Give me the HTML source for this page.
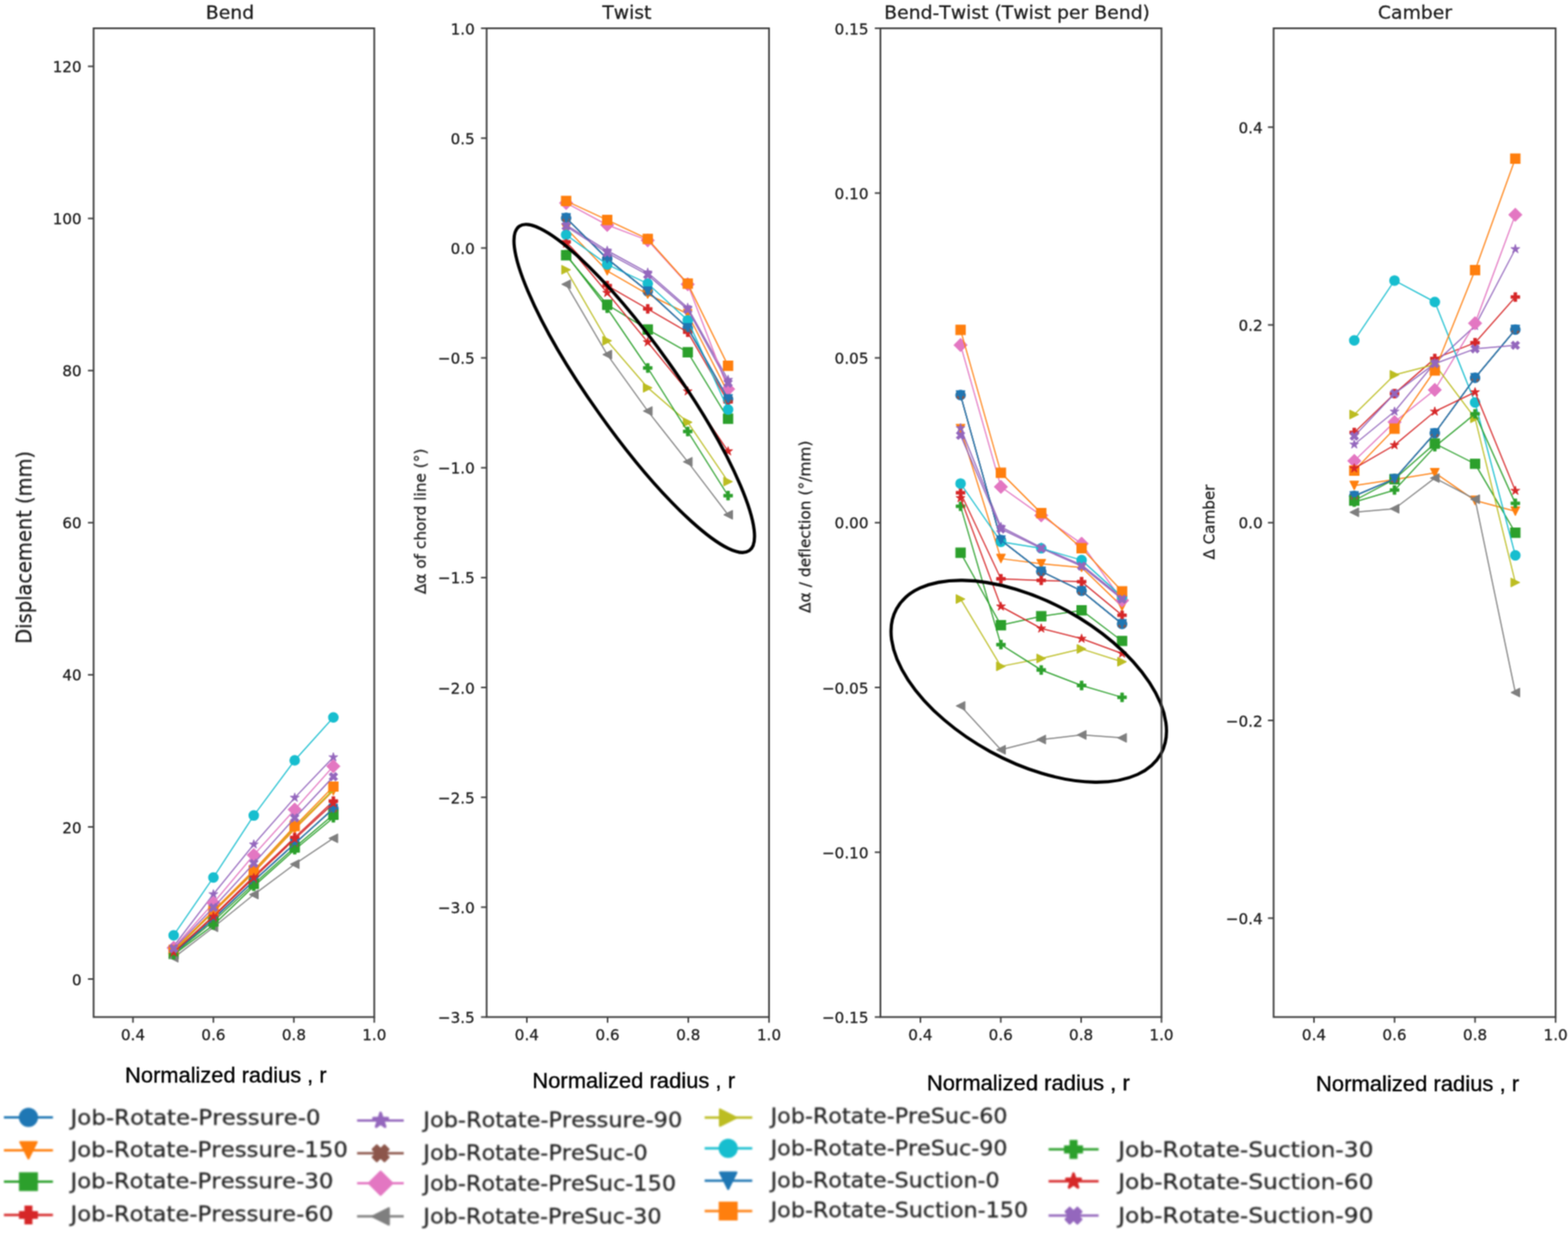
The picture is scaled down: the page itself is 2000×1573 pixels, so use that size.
<!DOCTYPE html>
<html lang="en"><head><meta charset="utf-8"><title>Blade deformation: Bend, Twist, Bend-Twist, Camber</title>
<style>
html,body{margin:0;padding:0;background:#fff;}
body{width:2000px;height:1573px;overflow:hidden;}
svg{display:block;}
text{font-family:"DejaVu Sans","Liberation Sans",sans-serif;fill:#1a1a1a;font-variant-ligatures:none;font-kerning:none;font-feature-settings:"liga" 0,"clig" 0,"kern" 0;}
.tk,.ti,.yl{stroke:#1a1a1a;stroke-width:0.3;}
.tk{font-size:20.2px;}
.ti{font-size:24px;text-anchor:middle;}
.xl{stroke:#000;stroke-width:0.45;font-family:"Liberation Sans","DejaVu Sans",sans-serif;font-size:27.7px;fill:#000;}
.lg{font-size:27.4px;fill:#222;stroke:#222;stroke-width:0.3;}
.sp{fill:none;stroke:#404040;stroke-width:2.2;}
.tm{stroke:#404040;stroke-width:2;}
.ln{fill:none;stroke-width:1.5;stroke-linejoin:round;stroke-linecap:butt;}
.el{fill:none;stroke:#000;}
</style></head><body>
<svg width="2000" height="1573" viewBox="0 0 2000 1573" role="img" aria-label="Bend, Twist, Bend-Twist and Camber versus normalized radius">
<defs>
<path id="ms" d="M-6,-6L6,-6L6,6L-6,6Z" stroke-width="1.2" stroke-linejoin="miter"/>
<path id="mv" d="M0,5.7L-5.7,-5.7L5.7,-5.7Z" stroke-width="1" stroke-linejoin="round"/>
<path id="mtl" d="M-5.7,0L5.7,-5.7L5.7,5.7Z" stroke-width="1" stroke-linejoin="round"/>
<path id="mtr" d="M5.7,0L-5.7,-5.7L-5.7,5.7Z" stroke-width="1" stroke-linejoin="round"/>
<path id="mD" d="M0,-8.56L8.56,0L0,8.56L-8.56,0Z" stroke-width="1" stroke-linejoin="round"/>
<path id="mP" d="M-1.9,-5.7L1.9,-5.7L1.9,-1.9L5.7,-1.9L5.7,1.9L1.9,1.9L1.9,5.7L-1.9,5.7L-1.9,1.9L-5.7,1.9L-5.7,-1.9L-1.9,-1.9Z" stroke-width="0.7" stroke-linejoin="miter"/>
<path id="mX" d="M-2.8,-5.6L0,-2.8L2.8,-5.6L5.6,-2.8L2.8,0L5.6,2.8L2.8,5.6L0,2.8L-2.8,5.6L-5.6,2.8L-2.8,0L-5.6,-2.8Z" stroke-width="0.8" stroke-linejoin="round"/>
<path id="mst" d="M0,-6L1.35,-1.85L5.71,-1.85L2.18,0.71L3.53,4.85L0,2.29L-3.53,4.85L-2.18,0.71L-5.71,-1.85L-1.35,-1.85Z" stroke-width="0.9" stroke-linejoin="round"/>
<circle id="mo" r="6.15" stroke-width="1.2"/>
<path id="mXb" d="M-2.6,-5.2L0,-2.6L2.6,-5.2L5.2,-2.6L2.6,0L5.2,2.6L2.6,5.2L0,2.6L-2.6,5.2L-5.2,2.6L-2.6,0L-5.2,-2.6Z" stroke-width="0.5" stroke-linejoin="round"/>
<path id="Ls" d="M-6,-6L6,-6L6,6L-6,6Z" stroke-width="1.8" stroke-linejoin="miter"/>
<path id="Lv" d="M0,6L-6,-6L6,-6Z" stroke-width="1.5" stroke-linejoin="round"/>
<path id="Ltl" d="M-6,0L6,-6L6,6Z" stroke-width="1.5" stroke-linejoin="round"/>
<path id="Ltr" d="M6,0L-6,-6L-6,6Z" stroke-width="1.5" stroke-linejoin="round"/>
<path id="LD" d="M0,-8.49L8.49,0L0,8.49L-8.49,0Z" stroke-width="1.6" stroke-linejoin="round"/>
<path id="LP" d="M-2,-6L2,-6L2,-2L6,-2L6,2L2,2L2,6L-2,6L-2,2L-6,2L-6,-2L-2,-2Z" stroke-width="1.8" stroke-linejoin="miter"/>
<path id="LX" d="M-2.8,-5.6L0,-2.8L2.8,-5.6L5.6,-2.8L2.8,0L5.6,2.8L2.8,5.6L0,2.8L-2.8,5.6L-5.6,2.8L-2.8,0L-5.6,-2.8Z" stroke-width="1.8" stroke-linejoin="round"/>
<path id="Lst" d="M0,-5.5L1.23,-1.7L5.23,-1.7L2,0.65L3.23,4.45L0,2.1L-3.23,4.45L-2,0.65L-5.23,-1.7L-1.23,-1.7Z" stroke-width="2" stroke-linejoin="round"/>
<circle id="Lo" r="6" stroke-width="2"/>
<filter id="bl" filterUnits="userSpaceOnUse" x="0" y="0" width="2000" height="1573" color-interpolation-filters="sRGB"><feConvolveMatrix order="3" kernelMatrix="1 2 1 2 4 2 1 2 1" edgeMode="duplicate" preserveAlpha="false"/></filter>
<filter id="bl2" filterUnits="userSpaceOnUse" x="0" y="1395" width="2000" height="178" color-interpolation-filters="sRGB"><feGaussianBlur stdDeviation="1"/></filter>
</defs>
<rect width="2000" height="1573" fill="#fff"/>
<g filter="url(#bl)">
<g id="panel1">
<g fill="#1f77b4" stroke="#1f77b4">
<polyline class="ln" points="221.5,1215.99 272.2,1172.33 323.7,1123.81 375.9,1076.27 425.2,1031.64"/>
<g><use href="#mo" x="221.5" y="1215.99"/><use href="#mo" x="272.2" y="1172.33"/><use href="#mo" x="323.7" y="1123.81"/><use href="#mo" x="375.9" y="1076.27"/><use href="#mo" x="425.2" y="1031.64"/></g>
</g>
<g fill="#ff7f0e" stroke="#ff7f0e">
<polyline class="ln" points="221.5,1213.08 272.2,1163.6 323.7,1113.14 375.9,1057.83 425.2,1008.83"/>
<g><use href="#mv" x="221.5" y="1213.08"/><use href="#mv" x="272.2" y="1163.6"/><use href="#mv" x="323.7" y="1113.14"/><use href="#mv" x="375.9" y="1057.83"/><use href="#mv" x="425.2" y="1008.83"/></g>
</g>
<g fill="#2ca02c" stroke="#2ca02c">
<polyline class="ln" points="221.5,1216.96 272.2,1175.24 323.7,1127.7 375.9,1081.12 425.2,1039.4"/>
<g><use href="#ms" x="221.5" y="1216.96"/><use href="#ms" x="272.2" y="1175.24"/><use href="#ms" x="323.7" y="1127.7"/><use href="#ms" x="375.9" y="1081.12"/><use href="#ms" x="425.2" y="1039.4"/></g>
</g>
<g fill="#d62728" stroke="#d62728">
<polyline class="ln" points="221.5,1215.02 272.2,1168.45 323.7,1117.99 375.9,1068.51 425.2,1021.93"/>
<g><use href="#mP" x="221.5" y="1215.02"/><use href="#mP" x="272.2" y="1168.45"/><use href="#mP" x="323.7" y="1117.99"/><use href="#mP" x="375.9" y="1068.51"/><use href="#mP" x="425.2" y="1021.93"/></g>
</g>
<g fill="#9467bd" stroke="#9467bd">
<polyline class="ln" points="221.5,1207.26 272.2,1140.8 323.7,1077.24 375.9,1017.66 425.2,966.04"/>
<g><use href="#mst" x="221.5" y="1207.26"/><use href="#mst" x="272.2" y="1140.8"/><use href="#mst" x="323.7" y="1077.24"/><use href="#mst" x="375.9" y="1017.66"/><use href="#mst" x="425.2" y="966.04"/></g>
</g>
<g fill="#8c564b" stroke="#8c564b">
<polyline class="ln" stroke-width="2.1" points="221.5,1215.99 272.2,1172.33 323.7,1123.81 375.9,1076.27 425.2,1031.64"/>
<g><use href="#mXb" x="221.5" y="1215.99"/><use href="#mXb" x="272.2" y="1172.33"/><use href="#mXb" x="323.7" y="1123.81"/><use href="#mXb" x="375.9" y="1076.27"/><use href="#mXb" x="425.2" y="1031.64"/></g>
</g>
<g fill="#e377c2" stroke="#e377c2">
<polyline class="ln" points="221.5,1209.2 272.2,1151.95 323.7,1090.82 375.9,1032.8 425.2,977.59"/>
<g><use href="#mD" x="221.5" y="1209.2"/><use href="#mD" x="272.2" y="1151.95"/><use href="#mD" x="323.7" y="1090.82"/><use href="#mD" x="375.9" y="1032.8"/><use href="#mD" x="425.2" y="977.59"/></g>
</g>
<g fill="#7f7f7f" stroke="#7f7f7f">
<polyline class="ln" points="221.5,1221.82 272.2,1183 323.7,1141.28 375.9,1102.47 425.2,1069.48"/>
<g><use href="#mtl" x="221.5" y="1221.82"/><use href="#mtl" x="272.2" y="1183"/><use href="#mtl" x="323.7" y="1141.28"/><use href="#mtl" x="375.9" y="1102.47"/><use href="#mtl" x="425.2" y="1069.48"/></g>
</g>
<g fill="#bcbd22" stroke="#bcbd22">
<polyline class="ln" points="221.5,1214.05 272.2,1162.63 323.7,1111.2 375.9,1055.89 425.2,1007.38"/>
<g><use href="#mtr" x="221.5" y="1214.05"/><use href="#mtr" x="272.2" y="1162.63"/><use href="#mtr" x="323.7" y="1111.2"/><use href="#mtr" x="375.9" y="1055.89"/><use href="#mtr" x="425.2" y="1007.38"/></g>
</g>
<g fill="#17becf" stroke="#17becf">
<polyline class="ln" points="221.5,1193.19 272.2,1119.45 323.7,1040.37 375.9,970.02 425.2,915.2"/>
<g><use href="#mo" x="221.5" y="1193.19"/><use href="#mo" x="272.2" y="1119.45"/><use href="#mo" x="323.7" y="1040.37"/><use href="#mo" x="375.9" y="970.02"/><use href="#mo" x="425.2" y="915.2"/></g>
</g>
<g fill="#1f77b4" stroke="#1f77b4">
<polyline class="ln" points="221.5,1215.99 272.2,1172.33 323.7,1123.81 375.9,1076.27 425.2,1031.64"/>
<g><use href="#mv" x="221.5" y="1215.99"/><use href="#mv" x="272.2" y="1172.33"/><use href="#mv" x="323.7" y="1123.81"/><use href="#mv" x="375.9" y="1076.27"/><use href="#mv" x="425.2" y="1031.64"/></g>
</g>
<g fill="#ff7f0e" stroke="#ff7f0e">
<polyline class="ln" points="221.5,1212.11 272.2,1161.66 323.7,1110.23 375.9,1053.95 425.2,1003.5"/>
<g><use href="#ms" x="221.5" y="1212.11"/><use href="#ms" x="272.2" y="1161.66"/><use href="#ms" x="323.7" y="1110.23"/><use href="#ms" x="375.9" y="1053.95"/><use href="#ms" x="425.2" y="1003.5"/></g>
</g>
<g fill="#2ca02c" stroke="#2ca02c">
<polyline class="ln" points="221.5,1217.93 272.2,1180.09 323.7,1130.61 375.9,1084.03 425.2,1043.28"/>
<g><use href="#mP" x="221.5" y="1217.93"/><use href="#mP" x="272.2" y="1180.09"/><use href="#mP" x="323.7" y="1130.61"/><use href="#mP" x="375.9" y="1084.03"/><use href="#mP" x="425.2" y="1043.28"/></g>
</g>
<g fill="#d62728" stroke="#d62728">
<polyline class="ln" points="221.5,1215.02 272.2,1169.42 323.7,1119.93 375.9,1070.45 425.2,1024.84"/>
<g><use href="#mst" x="221.5" y="1215.02"/><use href="#mst" x="272.2" y="1169.42"/><use href="#mst" x="323.7" y="1119.93"/><use href="#mst" x="375.9" y="1070.45"/><use href="#mst" x="425.2" y="1024.84"/></g>
</g>
<g fill="#9467bd" stroke="#9467bd">
<polyline class="ln" points="221.5,1210.17 272.2,1157.78 323.7,1101.5 375.9,1043.47 425.2,990.88"/>
<g><use href="#mX" x="221.5" y="1210.17"/><use href="#mX" x="272.2" y="1157.78"/><use href="#mX" x="323.7" y="1101.5"/><use href="#mX" x="375.9" y="1043.47"/><use href="#mX" x="425.2" y="990.88"/></g>
</g>
<rect class="sp" x="119.4" y="36.1" width="358" height="1261.4"/>
<line class="tm" x1="169.6" y1="1297.5" x2="169.6" y2="1304.7"/>
<text class="tk" transform="translate(169.6 1327.2) scale(0.96 1)" text-anchor="middle">0.4</text>
<line class="tm" x1="272.2" y1="1297.5" x2="272.2" y2="1304.7"/>
<text class="tk" transform="translate(272.2 1327.2) scale(0.96 1)" text-anchor="middle">0.6</text>
<line class="tm" x1="374.8" y1="1297.5" x2="374.8" y2="1304.7"/>
<text class="tk" transform="translate(374.8 1327.2) scale(0.96 1)" text-anchor="middle">0.8</text>
<line class="tm" x1="477.4" y1="1297.5" x2="477.4" y2="1304.7"/>
<text class="tk" transform="translate(477.4 1327.2) scale(0.96 1)" text-anchor="middle">1.0</text>
<line class="tm" x1="112.2" y1="1248.98" x2="119.4" y2="1248.98"/>
<text class="tk" transform="translate(104.2 1256.58) scale(0.96 1)" text-anchor="end">0</text>
<line class="tm" x1="112.2" y1="1054.92" x2="119.4" y2="1054.92"/>
<text class="tk" transform="translate(104.2 1062.52) scale(0.96 1)" text-anchor="end">20</text>
<line class="tm" x1="112.2" y1="860.86" x2="119.4" y2="860.86"/>
<text class="tk" transform="translate(104.2 868.46) scale(0.96 1)" text-anchor="end">40</text>
<line class="tm" x1="112.2" y1="666.8" x2="119.4" y2="666.8"/>
<text class="tk" transform="translate(104.2 674.4) scale(0.96 1)" text-anchor="end">60</text>
<line class="tm" x1="112.2" y1="472.74" x2="119.4" y2="472.74"/>
<text class="tk" transform="translate(104.2 480.34) scale(0.96 1)" text-anchor="end">80</text>
<line class="tm" x1="112.2" y1="278.68" x2="119.4" y2="278.68"/>
<text class="tk" transform="translate(104.2 286.28) scale(0.96 1)" text-anchor="end">100</text>
<line class="tm" x1="112.2" y1="84.62" x2="119.4" y2="84.62"/>
<text class="tk" transform="translate(104.2 92.22) scale(0.96 1)" text-anchor="end">120</text>
<text class="ti" transform="translate(293.4 23.6) scale(1 0.93)">Bend</text>
<text class="yl" transform="translate(40 698.3) rotate(-90)" text-anchor="middle" font-size="26.5" textLength="246" lengthAdjust="spacingAndGlyphs">Displacement (mm)</text>
</g>
<g id="panel2">
<g fill="#1f77b4" stroke="#1f77b4">
<polyline class="ln" points="722.1,278.01 774.5,330.15 826.2,371.63 877.2,418.44 928.7,508.98"/>
<g><use href="#mo" x="722.1" y="278.01"/><use href="#mo" x="774.5" y="330.15"/><use href="#mo" x="826.2" y="371.63"/><use href="#mo" x="877.2" y="418.44"/><use href="#mo" x="928.7" y="508.98"/></g>
</g>
<g fill="#ff7f0e" stroke="#ff7f0e">
<polyline class="ln" points="722.1,291.18 774.5,345.56 826.2,375.28 877.2,400.5 928.7,501.42"/>
<g><use href="#mv" x="722.1" y="291.18"/><use href="#mv" x="774.5" y="345.56"/><use href="#mv" x="826.2" y="375.28"/><use href="#mv" x="877.2" y="400.5"/><use href="#mv" x="928.7" y="501.42"/></g>
</g>
<g fill="#2ca02c" stroke="#2ca02c">
<polyline class="ln" points="722.1,325.66 774.5,388.73 826.2,420.41 877.2,449.28 928.7,534.21"/>
<g><use href="#ms" x="722.1" y="325.66"/><use href="#ms" x="774.5" y="388.73"/><use href="#ms" x="826.2" y="420.41"/><use href="#ms" x="877.2" y="449.28"/><use href="#ms" x="928.7" y="534.21"/></g>
</g>
<g fill="#d62728" stroke="#d62728">
<polyline class="ln" points="722.1,308.56 774.5,364.34 826.2,394.06 877.2,423.77 928.7,512.63"/>
<g><use href="#mP" x="722.1" y="308.56"/><use href="#mP" x="774.5" y="364.34"/><use href="#mP" x="826.2" y="394.06"/><use href="#mP" x="877.2" y="423.77"/><use href="#mP" x="928.7" y="512.63"/></g>
</g>
<g fill="#9467bd" stroke="#9467bd">
<polyline class="ln" points="722.1,286.98 774.5,319.77 826.2,347.81 877.2,392.66 928.7,484.6"/>
<g><use href="#mst" x="722.1" y="286.98"/><use href="#mst" x="774.5" y="319.77"/><use href="#mst" x="826.2" y="347.81"/><use href="#mst" x="877.2" y="392.66"/><use href="#mst" x="928.7" y="484.6"/></g>
</g>
<g fill="#8c564b" stroke="#8c564b">
<polyline class="ln" stroke-width="2.1" points="722.1,278.01 774.5,330.15 826.2,371.63 877.2,418.44 928.7,508.98"/>
<g><use href="#mXb" x="722.1" y="278.01"/><use href="#mXb" x="774.5" y="330.15"/><use href="#mXb" x="826.2" y="371.63"/><use href="#mXb" x="877.2" y="418.44"/><use href="#mXb" x="928.7" y="508.98"/></g>
</g>
<g fill="#e377c2" stroke="#e377c2">
<polyline class="ln" points="722.1,258.95 774.5,286.98 826.2,306.6 877.2,362.66 928.7,496.37"/>
<g><use href="#mD" x="722.1" y="258.95"/><use href="#mD" x="774.5" y="286.98"/><use href="#mD" x="826.2" y="306.6"/><use href="#mD" x="877.2" y="362.66"/><use href="#mD" x="928.7" y="496.37"/></g>
</g>
<g fill="#7f7f7f" stroke="#7f7f7f">
<polyline class="ln" points="722.1,362.66 774.5,452.36 826.2,524.4 877.2,589.15 928.7,656.71"/>
<g><use href="#mtl" x="722.1" y="362.66"/><use href="#mtl" x="774.5" y="452.36"/><use href="#mtl" x="826.2" y="524.4"/><use href="#mtl" x="877.2" y="589.15"/><use href="#mtl" x="928.7" y="656.71"/></g>
</g>
<g fill="#bcbd22" stroke="#bcbd22">
<polyline class="ln" points="722.1,344.16 774.5,434.7 826.2,494.69 877.2,538.7 928.7,614.38"/>
<g><use href="#mtr" x="722.1" y="344.16"/><use href="#mtr" x="774.5" y="434.7"/><use href="#mtr" x="826.2" y="494.69"/><use href="#mtr" x="877.2" y="538.7"/><use href="#mtr" x="928.7" y="614.38"/></g>
</g>
<g fill="#17becf" stroke="#17becf">
<polyline class="ln" points="722.1,299.59 774.5,337.43 826.2,361.82 877.2,408.63 928.7,522.44"/>
<g><use href="#mo" x="722.1" y="299.59"/><use href="#mo" x="774.5" y="337.43"/><use href="#mo" x="826.2" y="361.82"/><use href="#mo" x="877.2" y="408.63"/><use href="#mo" x="928.7" y="522.44"/></g>
</g>
<g fill="#1f77b4" stroke="#1f77b4">
<polyline class="ln" points="722.1,278.01 774.5,330.15 826.2,371.63 877.2,418.44 928.7,508.98"/>
<g><use href="#mv" x="722.1" y="278.01"/><use href="#mv" x="774.5" y="330.15"/><use href="#mv" x="826.2" y="371.63"/><use href="#mv" x="877.2" y="418.44"/><use href="#mv" x="928.7" y="508.98"/></g>
</g>
<g fill="#ff7f0e" stroke="#ff7f0e">
<polyline class="ln" points="722.1,256.42 774.5,280.67 826.2,304.92 877.2,361.82 928.7,466.66"/>
<g><use href="#ms" x="722.1" y="256.42"/><use href="#ms" x="774.5" y="280.67"/><use href="#ms" x="826.2" y="304.92"/><use href="#ms" x="877.2" y="361.82"/><use href="#ms" x="928.7" y="466.66"/></g>
</g>
<g fill="#2ca02c" stroke="#2ca02c">
<polyline class="ln" points="722.1,324.82 774.5,393.22 826.2,469.46 877.2,550.47 928.7,632.32"/>
<g><use href="#mP" x="722.1" y="324.82"/><use href="#mP" x="774.5" y="393.22"/><use href="#mP" x="826.2" y="469.46"/><use href="#mP" x="877.2" y="550.47"/><use href="#mP" x="928.7" y="632.32"/></g>
</g>
<g fill="#d62728" stroke="#d62728">
<polyline class="ln" points="722.1,310.8 774.5,373.59 826.2,436.55 877.2,499.17 928.7,575.7"/>
<g><use href="#mst" x="722.1" y="310.8"/><use href="#mst" x="774.5" y="373.59"/><use href="#mst" x="826.2" y="436.55"/><use href="#mst" x="877.2" y="499.17"/><use href="#mst" x="928.7" y="575.7"/></g>
</g>
<g fill="#9467bd" stroke="#9467bd">
<polyline class="ln" points="722.1,288.66 774.5,322.58 826.2,350.61 877.2,394.9 928.7,488.8"/>
<g><use href="#mX" x="722.1" y="288.66"/><use href="#mX" x="774.5" y="322.58"/><use href="#mX" x="826.2" y="350.61"/><use href="#mX" x="877.2" y="394.9"/><use href="#mX" x="928.7" y="488.8"/></g>
</g>
<ellipse class="el" cx="0" cy="0" rx="253.6" ry="55" stroke-width="4.1" transform="translate(809 495.6) rotate(54.65)"/>
<rect class="sp" x="620.7" y="36.1" width="360.2" height="1261.4"/>
<line class="tm" x1="672" y1="1297.5" x2="672" y2="1304.7"/>
<text class="tk" transform="translate(672 1327.2) scale(0.96 1)" text-anchor="middle">0.4</text>
<line class="tm" x1="774.97" y1="1297.5" x2="774.97" y2="1304.7"/>
<text class="tk" transform="translate(774.97 1327.2) scale(0.96 1)" text-anchor="middle">0.6</text>
<line class="tm" x1="877.93" y1="1297.5" x2="877.93" y2="1304.7"/>
<text class="tk" transform="translate(877.93 1327.2) scale(0.96 1)" text-anchor="middle">0.8</text>
<line class="tm" x1="980.9" y1="1297.5" x2="980.9" y2="1304.7"/>
<text class="tk" transform="translate(980.9 1327.2) scale(0.96 1)" text-anchor="middle">1.0</text>
<line class="tm" x1="613.5" y1="36.1" x2="620.7" y2="36.1"/>
<text class="tk" transform="translate(605.5 43.7) scale(0.96 1)" text-anchor="end">1.0</text>
<line class="tm" x1="613.5" y1="176.26" x2="620.7" y2="176.26"/>
<text class="tk" transform="translate(605.5 183.86) scale(0.96 1)" text-anchor="end">0.5</text>
<line class="tm" x1="613.5" y1="316.41" x2="620.7" y2="316.41"/>
<text class="tk" transform="translate(605.5 324.01) scale(0.96 1)" text-anchor="end">0.0</text>
<line class="tm" x1="613.5" y1="456.57" x2="620.7" y2="456.57"/>
<text class="tk" transform="translate(605.5 464.17) scale(0.96 1)" text-anchor="end">−0.5</text>
<line class="tm" x1="613.5" y1="596.72" x2="620.7" y2="596.72"/>
<text class="tk" transform="translate(605.5 604.32) scale(0.96 1)" text-anchor="end">−1.0</text>
<line class="tm" x1="613.5" y1="736.88" x2="620.7" y2="736.88"/>
<text class="tk" transform="translate(605.5 744.48) scale(0.96 1)" text-anchor="end">−1.5</text>
<line class="tm" x1="613.5" y1="877.03" x2="620.7" y2="877.03"/>
<text class="tk" transform="translate(605.5 884.63) scale(0.96 1)" text-anchor="end">−2.0</text>
<line class="tm" x1="613.5" y1="1017.19" x2="620.7" y2="1017.19"/>
<text class="tk" transform="translate(605.5 1024.79) scale(0.96 1)" text-anchor="end">−2.5</text>
<line class="tm" x1="613.5" y1="1157.34" x2="620.7" y2="1157.34"/>
<text class="tk" transform="translate(605.5 1164.94) scale(0.96 1)" text-anchor="end">−3.0</text>
<line class="tm" x1="613.5" y1="1297.5" x2="620.7" y2="1297.5"/>
<text class="tk" transform="translate(605.5 1305.1) scale(0.96 1)" text-anchor="end">−3.5</text>
<text class="ti" transform="translate(799.55 23.6) scale(1 0.93)">Twist</text>
<text class="yl" transform="translate(543 665.2) rotate(-90)" text-anchor="middle" font-size="20" textLength="185.6" lengthAdjust="spacingAndGlyphs">Δα of chord line (°)</text>
</g>
<g id="panel3">
<g fill="#1f77b4" stroke="#1f77b4">
<polyline class="ln" points="1225.2,504.08 1276.7,689.08 1328.1,728.9 1379.6,753.84 1431.2,795.88"/>
<g><use href="#mo" x="1225.2" y="504.08"/><use href="#mo" x="1276.7" y="689.08"/><use href="#mo" x="1328.1" y="728.9"/><use href="#mo" x="1379.6" y="753.84"/><use href="#mo" x="1431.2" y="795.88"/></g>
</g>
<g fill="#ff7f0e" stroke="#ff7f0e">
<polyline class="ln" points="1225.2,546.97 1276.7,712.63 1328.1,719.36 1379.6,723.98 1431.2,773.6"/>
<g><use href="#mv" x="1225.2" y="546.97"/><use href="#mv" x="1276.7" y="712.63"/><use href="#mv" x="1328.1" y="719.36"/><use href="#mv" x="1379.6" y="723.98"/><use href="#mv" x="1431.2" y="773.6"/></g>
</g>
<g fill="#2ca02c" stroke="#2ca02c">
<polyline class="ln" points="1225.2,705.06 1276.7,797.57 1328.1,786.21 1379.6,778.64 1431.2,817.75"/>
<g><use href="#ms" x="1225.2" y="705.06"/><use href="#ms" x="1276.7" y="797.57"/><use href="#ms" x="1328.1" y="786.21"/><use href="#ms" x="1379.6" y="778.64"/><use href="#ms" x="1431.2" y="817.75"/></g>
</g>
<g fill="#d62728" stroke="#d62728">
<polyline class="ln" points="1225.2,628.71 1276.7,738.45 1328.1,740.38 1379.6,742.06 1431.2,784.95"/>
<g><use href="#mP" x="1225.2" y="628.71"/><use href="#mP" x="1276.7" y="738.45"/><use href="#mP" x="1328.1" y="740.38"/><use href="#mP" x="1379.6" y="742.06"/><use href="#mP" x="1431.2" y="784.95"/></g>
</g>
<g fill="#9467bd" stroke="#9467bd">
<polyline class="ln" points="1225.2,546.13 1276.7,672.27 1328.1,698.34 1379.6,720.62 1431.2,762.67"/>
<g><use href="#mst" x="1225.2" y="546.13"/><use href="#mst" x="1276.7" y="672.27"/><use href="#mst" x="1328.1" y="698.34"/><use href="#mst" x="1379.6" y="720.62"/><use href="#mst" x="1431.2" y="762.67"/></g>
</g>
<g fill="#8c564b" stroke="#8c564b">
<polyline class="ln" stroke-width="2.1" points="1225.2,504.08 1276.7,689.08 1328.1,728.9 1379.6,753.84 1431.2,795.88"/>
<g><use href="#mXb" x="1225.2" y="504.08"/><use href="#mXb" x="1276.7" y="689.08"/><use href="#mXb" x="1328.1" y="728.9"/><use href="#mXb" x="1379.6" y="753.84"/><use href="#mXb" x="1431.2" y="795.88"/></g>
</g>
<g fill="#e377c2" stroke="#e377c2">
<polyline class="ln" points="1225.2,440.17 1276.7,621.1 1328.1,657.55 1379.6,693.58 1431.2,766.03"/>
<g><use href="#mD" x="1225.2" y="440.17"/><use href="#mD" x="1276.7" y="621.1"/><use href="#mD" x="1328.1" y="657.55"/><use href="#mD" x="1379.6" y="693.58"/><use href="#mD" x="1431.2" y="766.03"/></g>
</g>
<g fill="#7f7f7f" stroke="#7f7f7f">
<polyline class="ln" points="1225.2,900.58 1276.7,956.5 1328.1,943.47 1379.6,937.58 1431.2,941.36"/>
<g><use href="#mtl" x="1225.2" y="900.58"/><use href="#mtl" x="1276.7" y="956.5"/><use href="#mtl" x="1328.1" y="943.47"/><use href="#mtl" x="1379.6" y="937.58"/><use href="#mtl" x="1431.2" y="941.36"/></g>
</g>
<g fill="#bcbd22" stroke="#bcbd22">
<polyline class="ln" points="1225.2,764.22 1276.7,850.12 1328.1,840.03 1379.6,827.84 1431.2,844.24"/>
<g><use href="#mtr" x="1225.2" y="764.22"/><use href="#mtr" x="1276.7" y="850.12"/><use href="#mtr" x="1328.1" y="840.03"/><use href="#mtr" x="1379.6" y="827.84"/><use href="#mtr" x="1431.2" y="844.24"/></g>
</g>
<g fill="#17becf" stroke="#17becf">
<polyline class="ln" points="1225.2,616.89 1276.7,691.19 1328.1,699.6 1379.6,714.61 1431.2,761.4"/>
<g><use href="#mo" x="1225.2" y="616.89"/><use href="#mo" x="1276.7" y="691.19"/><use href="#mo" x="1328.1" y="699.6"/><use href="#mo" x="1379.6" y="714.61"/><use href="#mo" x="1431.2" y="761.4"/></g>
</g>
<g fill="#1f77b4" stroke="#1f77b4">
<polyline class="ln" points="1225.2,504.08 1276.7,689.08 1328.1,728.9 1379.6,753.84 1431.2,795.88"/>
<g><use href="#mv" x="1225.2" y="504.08"/><use href="#mv" x="1276.7" y="689.08"/><use href="#mv" x="1328.1" y="728.9"/><use href="#mv" x="1379.6" y="753.84"/><use href="#mv" x="1431.2" y="795.88"/></g>
</g>
<g fill="#ff7f0e" stroke="#ff7f0e">
<polyline class="ln" points="1225.2,420.83 1276.7,603.1 1328.1,654.61 1379.6,699.3 1431.2,754.26"/>
<g><use href="#ms" x="1225.2" y="420.83"/><use href="#ms" x="1276.7" y="603.1"/><use href="#ms" x="1328.1" y="654.61"/><use href="#ms" x="1379.6" y="699.3"/><use href="#ms" x="1431.2" y="754.26"/></g>
</g>
<g fill="#2ca02c" stroke="#2ca02c">
<polyline class="ln" points="1225.2,645.9 1276.7,822.37 1328.1,854.75 1379.6,874.51 1431.2,889.65"/>
<g><use href="#mP" x="1225.2" y="645.9"/><use href="#mP" x="1276.7" y="822.37"/><use href="#mP" x="1328.1" y="854.75"/><use href="#mP" x="1379.6" y="874.51"/><use href="#mP" x="1431.2" y="889.65"/></g>
</g>
<g fill="#d62728" stroke="#d62728">
<polyline class="ln" points="1225.2,635.39 1276.7,773.72 1328.1,801.77 1379.6,814.8 1431.2,833.73"/>
<g><use href="#mst" x="1225.2" y="635.39"/><use href="#mst" x="1276.7" y="773.72"/><use href="#mst" x="1328.1" y="801.77"/><use href="#mst" x="1379.6" y="814.8"/><use href="#mst" x="1431.2" y="833.73"/></g>
</g>
<g fill="#9467bd" stroke="#9467bd">
<polyline class="ln" points="1225.2,555.38 1276.7,674.79 1328.1,699.6 1379.6,722.3 1431.2,764.35"/>
<g><use href="#mX" x="1225.2" y="555.38"/><use href="#mX" x="1276.7" y="674.79"/><use href="#mX" x="1328.1" y="699.6"/><use href="#mX" x="1379.6" y="722.3"/><use href="#mX" x="1431.2" y="764.35"/></g>
</g>
<ellipse class="el" cx="0" cy="0" rx="192.3" ry="102.3" stroke-width="4.1" transform="translate(1312.2 869.1) rotate(28.7)"/>
<rect class="sp" x="1123" y="36.1" width="358.5" height="1261.4"/>
<line class="tm" x1="1174" y1="1297.5" x2="1174" y2="1304.7"/>
<text class="tk" transform="translate(1174 1327.2) scale(0.96 1)" text-anchor="middle">0.4</text>
<line class="tm" x1="1276.5" y1="1297.5" x2="1276.5" y2="1304.7"/>
<text class="tk" transform="translate(1276.5 1327.2) scale(0.96 1)" text-anchor="middle">0.6</text>
<line class="tm" x1="1379" y1="1297.5" x2="1379" y2="1304.7"/>
<text class="tk" transform="translate(1379 1327.2) scale(0.96 1)" text-anchor="middle">0.8</text>
<line class="tm" x1="1481.5" y1="1297.5" x2="1481.5" y2="1304.7"/>
<text class="tk" transform="translate(1481.5 1327.2) scale(0.96 1)" text-anchor="middle">1.0</text>
<line class="tm" x1="1115.8" y1="36.1" x2="1123" y2="36.1"/>
<text class="tk" transform="translate(1107.8 43.7) scale(0.96 1)" text-anchor="end">0.15</text>
<line class="tm" x1="1115.8" y1="246.33" x2="1123" y2="246.33"/>
<text class="tk" transform="translate(1107.8 253.93) scale(0.96 1)" text-anchor="end">0.10</text>
<line class="tm" x1="1115.8" y1="456.57" x2="1123" y2="456.57"/>
<text class="tk" transform="translate(1107.8 464.17) scale(0.96 1)" text-anchor="end">0.05</text>
<line class="tm" x1="1115.8" y1="666.8" x2="1123" y2="666.8"/>
<text class="tk" transform="translate(1107.8 674.4) scale(0.96 1)" text-anchor="end">0.00</text>
<line class="tm" x1="1115.8" y1="877.03" x2="1123" y2="877.03"/>
<text class="tk" transform="translate(1107.8 884.63) scale(0.96 1)" text-anchor="end">−0.05</text>
<line class="tm" x1="1115.8" y1="1087.27" x2="1123" y2="1087.27"/>
<text class="tk" transform="translate(1107.8 1094.87) scale(0.96 1)" text-anchor="end">−0.10</text>
<line class="tm" x1="1115.8" y1="1297.5" x2="1123" y2="1297.5"/>
<text class="tk" transform="translate(1107.8 1305.1) scale(0.96 1)" text-anchor="end">−0.15</text>
<text class="ti" transform="translate(1297.25 23.6) scale(1 0.93)">Bend-Twist (Twist per Bend)</text>
<text class="yl" transform="translate(1033.5 672) rotate(-90)" text-anchor="middle" font-size="20" textLength="219.9" lengthAdjust="spacingAndGlyphs">Δα / deflection (°/mm)</text>
</g>
<g id="panel4">
<g fill="#1f77b4" stroke="#1f77b4">
<polyline class="ln" points="1727.37,632.74 1778.73,610.92 1830.1,552.64 1881.47,482 1932.83,420.57"/>
<g><use href="#mo" x="1727.37" y="632.74"/><use href="#mo" x="1778.73" y="610.92"/><use href="#mo" x="1830.1" y="552.64"/><use href="#mo" x="1881.47" y="482"/><use href="#mo" x="1932.83" y="420.57"/></g>
</g>
<g fill="#ff7f0e" stroke="#ff7f0e">
<polyline class="ln" points="1727.37,619.5 1778.73,611.8 1830.1,603.23 1881.47,638.54 1932.83,652.29"/>
<g><use href="#mv" x="1727.37" y="619.5"/><use href="#mv" x="1778.73" y="611.8"/><use href="#mv" x="1830.1" y="603.23"/><use href="#mv" x="1881.47" y="638.54"/><use href="#mv" x="1932.83" y="652.29"/></g>
</g>
<g fill="#2ca02c" stroke="#2ca02c">
<polyline class="ln" points="1727.37,638.54 1778.73,611.3 1830.1,565.89 1881.47,591.75 1932.83,679.67"/>
<g><use href="#ms" x="1727.37" y="638.54"/><use href="#ms" x="1778.73" y="611.3"/><use href="#ms" x="1830.1" y="565.89"/><use href="#ms" x="1881.47" y="591.75"/><use href="#ms" x="1932.83" y="679.67"/></g>
</g>
<g fill="#d62728" stroke="#d62728">
<polyline class="ln" points="1727.37,551.76 1778.73,502.19 1830.1,457.41 1881.47,437.23 1932.83,378.95"/>
<g><use href="#mP" x="1727.37" y="551.76"/><use href="#mP" x="1778.73" y="502.19"/><use href="#mP" x="1830.1" y="457.41"/><use href="#mP" x="1881.47" y="437.23"/><use href="#mP" x="1932.83" y="378.95"/></g>
</g>
<g fill="#9467bd" stroke="#9467bd">
<polyline class="ln" points="1727.37,567.02 1778.73,525.02 1830.1,463.08 1881.47,415.78 1932.83,317.77"/>
<g><use href="#mst" x="1727.37" y="567.02"/><use href="#mst" x="1778.73" y="525.02"/><use href="#mst" x="1830.1" y="463.08"/><use href="#mst" x="1881.47" y="415.78"/><use href="#mst" x="1932.83" y="317.77"/></g>
</g>
<g fill="#8c564b" stroke="#8c564b">
<polyline class="ln" stroke-width="2.1" points="1727.37,632.74 1778.73,610.92 1830.1,552.64 1881.47,482 1932.83,420.57"/>
<g><use href="#mXb" x="1727.37" y="632.74"/><use href="#mXb" x="1778.73" y="610.92"/><use href="#mXb" x="1830.1" y="552.64"/><use href="#mXb" x="1881.47" y="482"/><use href="#mXb" x="1932.83" y="420.57"/></g>
</g>
<g fill="#e377c2" stroke="#e377c2">
<polyline class="ln" points="1727.37,587.96 1778.73,538.39 1830.1,497.39 1881.47,412.38 1932.83,274"/>
<g><use href="#mD" x="1727.37" y="587.96"/><use href="#mD" x="1778.73" y="538.39"/><use href="#mD" x="1830.1" y="497.39"/><use href="#mD" x="1881.47" y="412.38"/><use href="#mD" x="1932.83" y="274"/></g>
</g>
<g fill="#7f7f7f" stroke="#7f7f7f">
<polyline class="ln" points="1727.37,653.56 1778.73,649.01 1830.1,609.91 1881.47,636.9 1932.83,883.51"/>
<g><use href="#mtl" x="1727.37" y="653.56"/><use href="#mtl" x="1778.73" y="649.01"/><use href="#mtl" x="1830.1" y="609.91"/><use href="#mtl" x="1881.47" y="636.9"/><use href="#mtl" x="1932.83" y="883.51"/></g>
</g>
<g fill="#bcbd22" stroke="#bcbd22">
<polyline class="ln" points="1727.37,528.8 1778.73,478.22 1830.1,464.98 1881.47,533.6 1932.83,743.11"/>
<g><use href="#mtr" x="1727.37" y="528.8"/><use href="#mtr" x="1778.73" y="478.22"/><use href="#mtr" x="1830.1" y="464.98"/><use href="#mtr" x="1881.47" y="533.6"/><use href="#mtr" x="1932.83" y="743.11"/></g>
</g>
<g fill="#17becf" stroke="#17becf">
<polyline class="ln" points="1727.37,434.32 1778.73,357.88 1830.1,385.26 1881.47,513.54 1932.83,708.55"/>
<g><use href="#mo" x="1727.37" y="434.32"/><use href="#mo" x="1778.73" y="357.88"/><use href="#mo" x="1830.1" y="385.26"/><use href="#mo" x="1881.47" y="513.54"/><use href="#mo" x="1932.83" y="708.55"/></g>
</g>
<g fill="#1f77b4" stroke="#1f77b4">
<polyline class="ln" points="1727.37,632.74 1778.73,610.92 1830.1,552.64 1881.47,482 1932.83,420.57"/>
<g><use href="#mv" x="1727.37" y="632.74"/><use href="#mv" x="1778.73" y="610.92"/><use href="#mv" x="1830.1" y="552.64"/><use href="#mv" x="1881.47" y="482"/><use href="#mv" x="1932.83" y="420.57"/></g>
</g>
<g fill="#ff7f0e" stroke="#ff7f0e">
<polyline class="ln" points="1727.37,600.32 1778.73,546.97 1830.1,472.54 1881.47,344.64 1932.83,202.35"/>
<g><use href="#ms" x="1727.37" y="600.32"/><use href="#ms" x="1778.73" y="546.97"/><use href="#ms" x="1830.1" y="472.54"/><use href="#ms" x="1881.47" y="344.64"/><use href="#ms" x="1932.83" y="202.35"/></g>
</g>
<g fill="#2ca02c" stroke="#2ca02c">
<polyline class="ln" points="1727.37,640.44 1778.73,625.17 1830.1,569.92 1881.47,527.92 1932.83,642.08"/>
<g><use href="#mP" x="1727.37" y="640.44"/><use href="#mP" x="1778.73" y="625.17"/><use href="#mP" x="1830.1" y="569.92"/><use href="#mP" x="1881.47" y="527.92"/><use href="#mP" x="1932.83" y="642.08"/></g>
</g>
<g fill="#d62728" stroke="#d62728">
<polyline class="ln" points="1727.37,597.55 1778.73,567.91 1830.1,525.02 1881.47,500.3 1932.83,626.06"/>
<g><use href="#mst" x="1727.37" y="597.55"/><use href="#mst" x="1778.73" y="567.91"/><use href="#mst" x="1830.1" y="525.02"/><use href="#mst" x="1881.47" y="500.3"/><use href="#mst" x="1932.83" y="626.06"/></g>
</g>
<g fill="#9467bd" stroke="#9467bd">
<polyline class="ln" points="1727.37,556.43 1778.73,502.19 1830.1,463.97 1881.47,445.05 1932.83,440.5"/>
<g><use href="#mX" x="1727.37" y="556.43"/><use href="#mX" x="1778.73" y="502.19"/><use href="#mX" x="1830.1" y="463.97"/><use href="#mX" x="1881.47" y="445.05"/><use href="#mX" x="1932.83" y="440.5"/></g>
</g>
<rect class="sp" x="1624.5" y="36.1" width="359.7" height="1261.4"/>
<line class="tm" x1="1676" y1="1297.5" x2="1676" y2="1304.7"/>
<text class="tk" transform="translate(1676 1327.2) scale(0.96 1)" text-anchor="middle">0.4</text>
<line class="tm" x1="1778.73" y1="1297.5" x2="1778.73" y2="1304.7"/>
<text class="tk" transform="translate(1778.73 1327.2) scale(0.96 1)" text-anchor="middle">0.6</text>
<line class="tm" x1="1881.47" y1="1297.5" x2="1881.47" y2="1304.7"/>
<text class="tk" transform="translate(1881.47 1327.2) scale(0.96 1)" text-anchor="middle">0.8</text>
<line class="tm" x1="1984.2" y1="1297.5" x2="1984.2" y2="1304.7"/>
<text class="tk" transform="translate(1984.2 1327.2) scale(0.96 1)" text-anchor="middle">1.0</text>
<line class="tm" x1="1617.3" y1="162.24" x2="1624.5" y2="162.24"/>
<text class="tk" transform="translate(1610.5 169.84) scale(0.96 1)" text-anchor="end">0.4</text>
<line class="tm" x1="1617.3" y1="414.52" x2="1624.5" y2="414.52"/>
<text class="tk" transform="translate(1610.5 422.12) scale(0.96 1)" text-anchor="end">0.2</text>
<line class="tm" x1="1617.3" y1="666.8" x2="1624.5" y2="666.8"/>
<text class="tk" transform="translate(1610.5 674.4) scale(0.96 1)" text-anchor="end">0.0</text>
<line class="tm" x1="1617.3" y1="919.08" x2="1624.5" y2="919.08"/>
<text class="tk" transform="translate(1610.5 926.68) scale(0.96 1)" text-anchor="end">−0.2</text>
<line class="tm" x1="1617.3" y1="1171.36" x2="1624.5" y2="1171.36"/>
<text class="tk" transform="translate(1610.5 1178.96) scale(0.96 1)" text-anchor="end">−0.4</text>
<text class="ti" transform="translate(1804.85 23.6) scale(1 0.93)">Camber</text>
<text class="yl" transform="translate(1549 666) rotate(-90)" text-anchor="middle" font-size="20" textLength="95.6" lengthAdjust="spacingAndGlyphs">Δ Camber</text>
</g>
</g>
<g id="xlabels" filter="url(#bl)">
<text class="xl" x="159.6" y="1381.2" textLength="257" lengthAdjust="spacingAndGlyphs">Normalized radius , r</text>
<text class="xl" x="679" y="1387.8" textLength="258.5" lengthAdjust="spacingAndGlyphs">Normalized radius , r</text>
<text class="xl" x="1182.2" y="1391" textLength="258.8" lengthAdjust="spacingAndGlyphs">Normalized radius , r</text>
<text class="xl" x="1678.6" y="1391.9" textLength="259" lengthAdjust="spacingAndGlyphs">Normalized radius , r</text>
</g>
<g id="legend" filter="url(#bl2)">
<g fill="#1f77b4" stroke="#1f77b4"><line x1="5" y1="1425.5" x2="67.5" y2="1425.5" stroke-width="2.9"/><use href="#Lo" transform="translate(36.3 1425.5) scale(1.75)"/></g>
<text class="lg" x="90" y="1434.5" textLength="318.8" lengthAdjust="spacingAndGlyphs">Job-Rotate-Pressure-0</text>
<g fill="#ff7f0e" stroke="#ff7f0e"><line x1="5" y1="1467.5" x2="67.5" y2="1467.5" stroke-width="2.9"/><use href="#Lv" transform="translate(36.3 1467.5) scale(1.75)"/></g>
<text class="lg" x="90" y="1475.7" textLength="353.8" lengthAdjust="spacingAndGlyphs">Job-Rotate-Pressure-150</text>
<g fill="#2ca02c" stroke="#2ca02c"><line x1="5" y1="1507.5" x2="67.5" y2="1507.5" stroke-width="2.9"/><use href="#Ls" transform="translate(36.3 1507.5) scale(1.75)"/></g>
<text class="lg" x="90" y="1515.5" textLength="335.1" lengthAdjust="spacingAndGlyphs">Job-Rotate-Pressure-30</text>
<g fill="#d62728" stroke="#d62728"><line x1="5" y1="1550" x2="67.5" y2="1550" stroke-width="2.9"/><use href="#LP" transform="translate(36.3 1550) scale(1.75)"/></g>
<text class="lg" x="90" y="1558.3" textLength="335.1" lengthAdjust="spacingAndGlyphs">Job-Rotate-Pressure-60</text>
<g fill="#9467bd" stroke="#9467bd"><line x1="455.5" y1="1429.5" x2="515" y2="1429.5" stroke-width="2.9"/><use href="#Lst" transform="translate(485.5 1429.5) scale(1.75)"/></g>
<text class="lg" x="540" y="1438" textLength="330.1" lengthAdjust="spacingAndGlyphs">Job-Rotate-Pressure-90</text>
<g fill="#8c564b" stroke="#8c564b"><line x1="455.5" y1="1471.3" x2="515" y2="1471.3" stroke-width="2.9"/><use href="#LX" transform="translate(485.5 1471.3) scale(1.75)"/></g>
<text class="lg" x="540" y="1480" textLength="286.3" lengthAdjust="spacingAndGlyphs">Job-Rotate-PreSuc-0</text>
<g fill="#e377c2" stroke="#e377c2"><line x1="455.5" y1="1509.5" x2="515" y2="1509.5" stroke-width="2.9"/><use href="#LD" transform="translate(485.5 1509.5) scale(1.75)"/></g>
<text class="lg" x="540" y="1518.8" textLength="322.3" lengthAdjust="spacingAndGlyphs">Job-Rotate-PreSuc-150</text>
<g fill="#7f7f7f" stroke="#7f7f7f"><line x1="455.5" y1="1551.8" x2="515" y2="1551.8" stroke-width="2.9"/><use href="#Ltl" transform="translate(485.5 1551.8) scale(1.75)"/></g>
<text class="lg" x="540" y="1560.5" textLength="303.8" lengthAdjust="spacingAndGlyphs">Job-Rotate-PreSuc-30</text>
<g fill="#bcbd22" stroke="#bcbd22"><line x1="898.8" y1="1425.8" x2="959.5" y2="1425.8" stroke-width="2.9"/><use href="#Ltr" transform="translate(928.8 1425.8) scale(1.75)"/></g>
<text class="lg" x="983" y="1432.5" textLength="302.1" lengthAdjust="spacingAndGlyphs">Job-Rotate-PreSuc-60</text>
<g fill="#17becf" stroke="#17becf"><line x1="898.8" y1="1465" x2="959.5" y2="1465" stroke-width="2.9"/><use href="#Lo" transform="translate(928.8 1465) scale(1.75)"/></g>
<text class="lg" x="983" y="1473.8" textLength="302.1" lengthAdjust="spacingAndGlyphs">Job-Rotate-PreSuc-90</text>
<g fill="#1f77b4" stroke="#1f77b4"><line x1="898.8" y1="1506.3" x2="959.5" y2="1506.3" stroke-width="2.9"/><use href="#Lv" transform="translate(928.8 1506.3) scale(1.75)"/></g>
<text class="lg" x="983" y="1515" textLength="292.1" lengthAdjust="spacingAndGlyphs">Job-Rotate-Suction-0</text>
<g fill="#ff7f0e" stroke="#ff7f0e"><line x1="898.8" y1="1545" x2="959.5" y2="1545" stroke-width="2.9"/><use href="#Ls" transform="translate(928.8 1545) scale(1.75)"/></g>
<text class="lg" x="983" y="1552.5" textLength="328.3" lengthAdjust="spacingAndGlyphs">Job-Rotate-Suction-150</text>
<g fill="#2ca02c" stroke="#2ca02c"><line x1="1337.5" y1="1466.3" x2="1401.3" y2="1466.3" stroke-width="2.9"/><use href="#LP" transform="translate(1369.3 1466.3) scale(1.75)"/></g>
<text class="lg" x="1426.3" y="1475.5" textLength="325.5" lengthAdjust="spacingAndGlyphs">Job-Rotate-Suction-30</text>
<g fill="#d62728" stroke="#d62728"><line x1="1337.5" y1="1507" x2="1401.3" y2="1507" stroke-width="2.9"/><use href="#Lst" transform="translate(1369.3 1507) scale(1.75)"/></g>
<text class="lg" x="1426.3" y="1517" textLength="325.5" lengthAdjust="spacingAndGlyphs">Job-Rotate-Suction-60</text>
<g fill="#9467bd" stroke="#9467bd"><line x1="1337.5" y1="1550.8" x2="1401.3" y2="1550.8" stroke-width="2.9"/><use href="#LX" transform="translate(1369.3 1550.8) scale(1.75)"/></g>
<text class="lg" x="1426.3" y="1560" textLength="325.5" lengthAdjust="spacingAndGlyphs">Job-Rotate-Suction-90</text>
</g>
</svg>
</body></html>
